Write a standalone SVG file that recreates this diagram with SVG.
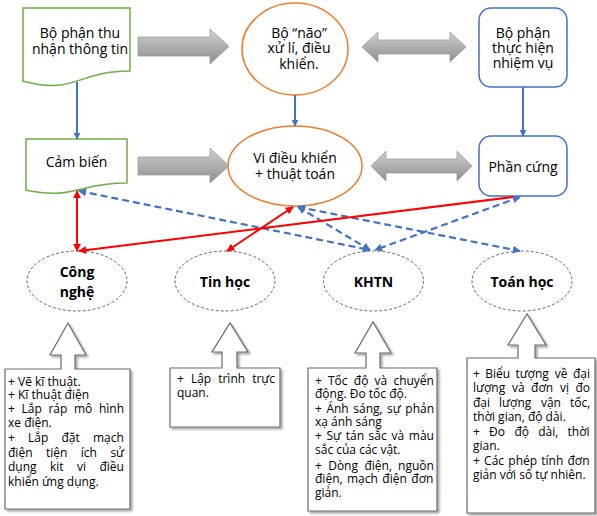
<svg xmlns="http://www.w3.org/2000/svg" width="597" height="516" viewBox="0 0 597 516">
<style>
text{font-family:"Open Sans","Noto Sans",sans-serif;fill:#000}
.lbl{font-size:14px;text-anchor:middle}
.bold{font-size:14px;font-weight:bold;text-anchor:middle}
.small{font-size:12px}
.garrow{fill:url(#gg);stroke:#9a9a9a;stroke-width:0.75}
.dash{fill:#fff;stroke:#404040;stroke-width:0.8;stroke-dasharray:3 2}
.call{fill:#fff;stroke:#6b6b6b;stroke-width:1.2;filter:url(#sh)}
.red{stroke:#FF0000;stroke-width:2;fill:none}
.bdash{stroke:#4472C4;stroke-width:2.2;stroke-dasharray:7 4;fill:none}
.bsolid{stroke:#4472C4;stroke-width:2;fill:none}
</style>
<defs>
<linearGradient id="gg" x1="0" y1="0" x2="0" y2="1">
<stop offset="0" stop-color="#cfcfcf"/>
<stop offset="1" stop-color="#8f8f8f"/>
</linearGradient>
<filter id="sh" x="-10%" y="-10%" width="130%" height="130%">
<feDropShadow dx="2" dy="2" stdDeviation="1" flood-color="#000" flood-opacity="0.35"/>
</filter>
<marker id="mr" viewBox="0 0 10 10" refX="9" refY="5" markerWidth="8" markerHeight="8" markerUnits="userSpaceOnUse" orient="auto-start-reverse"><path d="M0,0 L10,5 L0,10 Z" fill="#FF0000"/></marker>
<marker id="mb" viewBox="0 0 10 10" refX="9" refY="5" markerWidth="8" markerHeight="8" markerUnits="userSpaceOnUse" orient="auto-start-reverse"><path d="M0,0 L10,5 L0,10 Z" fill="#4472C4"/></marker>
<marker id="mbs" viewBox="0 0 10 10" refX="9" refY="5" markerWidth="7" markerHeight="7" markerUnits="userSpaceOnUse" orient="auto"><path d="M0,0 L10,5 L0,10 Z" fill="#4472C4"/></marker>
</defs>

<g id="n-thu-nhan">
<path d="M23,8 H130 V71 C76.5,71 76.5,95 23,81.3 Z" fill="#fff" stroke="#70AD47" stroke-width="1.5"/>
<text class="lbl" x="80" y="38">Bộ phận thu</text>
<text class="lbl" x="80" y="54">nhận thông tin</text>
</g>

<g id="n-bo-nao">
<ellipse cx="295" cy="49" rx="53" ry="46" fill="#fff" stroke="#ED7D31" stroke-width="1.5"/>
<text class="lbl" x="299" y="38">Bộ “não”</text>
<text class="lbl" x="299" y="53">xử lí, điều</text>
<text class="lbl" x="299" y="69">khiển.</text>
</g>

<g id="n-thuc-hien">
<rect x="479" y="8" width="88" height="79" rx="12" fill="#fff" stroke="#4472C4" stroke-width="1.5"/>
<text class="lbl" x="523" y="38">Bộ phận</text>
<text class="lbl" x="523" y="53">thực hiện</text>
<text class="lbl" x="523" y="68">nhiệm vụ</text>
</g>

<g id="n-cam-bien">
<path d="M26,139 H127 V183 C76.5,183 76.5,199.8 26,190.3 Z" fill="#fff" stroke="#70AD47" stroke-width="1.5"/>
<text class="lbl" x="76.5" y="167">Cảm biến</text>
</g>

<g id="n-vi-dieu-khien">
<ellipse cx="295" cy="166" rx="67" ry="40" fill="#fff" stroke="#ED7D31" stroke-width="1.5"/>
<text class="lbl" x="295" y="163">Vi điều khiển</text>
<text class="lbl" x="295" y="179">+ thuật toán</text>
</g>

<g id="n-phan-cung">
<rect x="479" y="136" width="88" height="60" rx="12" fill="#fff" stroke="#4472C4" stroke-width="1.5"/>
<text class="lbl" x="523" y="172">Phần cứng</text>
</g>

<g id="arrows-block">
<path class="garrow" d="M138,37 H210 V29 L229,46.5 L210,64 V56 H138 Z"/>
<path class="garrow" d="M138,157 H210 V148 L229,166 L210,183 V175 H138 Z"/>
<path class="garrow" d="M362,47 L378,32 V40 H450 V32 L466,47 L450,62 V54 H378 V62 Z"/>
<path class="garrow" d="M371,166 L386,151 V159 H457 V151 L472,166 L457,181 V173 H386 V181 Z"/>
</g>

<g id="n-cong-nghe">
<ellipse class="dash" cx="77" cy="281" rx="50" ry="30"/>
<text class="bold" x="77" y="277">Công</text>
<text class="bold" x="77" y="297">nghệ</text>
</g>
<g id="n-tin-hoc">
<ellipse class="dash" cx="225" cy="281" rx="50" ry="30"/>
<text class="bold" x="225" y="287">Tin học</text>
</g>
<g id="n-khtn">
<ellipse class="dash" cx="373.5" cy="281" rx="50" ry="30"/>
<text class="bold" x="373.5" y="287">KHTN</text>
</g>
<g id="n-toan-hoc">
<ellipse class="dash" cx="522" cy="281" rx="50" ry="30"/>
<text class="bold" x="522" y="287">Toán học</text>
</g>

<g id="connectors">
<line class="bsolid" x1="77" y1="82" x2="77" y2="139" marker-end="url(#mbs)"/>
<line class="bsolid" x1="295" y1="95" x2="295" y2="126" marker-end="url(#mbs)"/>
<line class="bsolid" x1="523" y1="87" x2="523" y2="136" marker-end="url(#mbs)"/>
<line class="bdash" x1="79" y1="191" x2="370" y2="250" marker-start="url(#mb)" marker-end="url(#mb)"/>
<line class="bdash" x1="298" y1="207" x2="370" y2="250" marker-start="url(#mb)" marker-end="url(#mb)"/>
<line class="bdash" x1="298" y1="207" x2="520" y2="251" marker-start="url(#mb)" marker-end="url(#mb)"/>
<line class="bdash" x1="520" y1="197" x2="375" y2="250" marker-start="url(#mb)" marker-end="url(#mb)"/>
<line class="red" x1="77" y1="191" x2="77" y2="251" marker-start="url(#mr)" marker-end="url(#mr)"/>
<line class="red" x1="513" y1="197" x2="79" y2="251" marker-end="url(#mr)"/>
<line class="red" x1="293" y1="207" x2="227" y2="251" marker-start="url(#mr)" marker-end="url(#mr)"/>
</g>

<g id="c-cong-nghe">
<path class="call" d="M5,369 H61 V355 H50 L68,323 L86,355 H75 V369 H130 V509 H5 Z"/>
<text class="small" x="8" y="386">+ Vẽ kĩ thuật.</text>
<text class="small" x="8" y="399">+ Kĩ thuật điện</text>
<text class="small" y="413"><tspan x="8">+</tspan><tspan x="21.5">Lắp</tspan><tspan x="48.4">ráp</tspan><tspan x="73.9">mô</tspan><tspan x="98.9">hình</tspan></text>
<text class="small" x="8" y="427">xe điện.</text>
<text class="small" y="442"><tspan x="8">+</tspan><tspan x="28.1">Lắp</tspan><tspan x="61.5">đặt</tspan><tspan x="93">mạch</tspan></text>
<text class="small" y="457"><tspan x="8">điện</tspan><tspan x="46">tiện</tspan><tspan x="80.8">ích</tspan><tspan x="110.4">sử</tspan></text>
<text class="small" y="471"><tspan x="8">dụng</tspan><tspan x="50">kit</tspan><tspan x="77">vi</tspan><tspan x="99.4">điều</tspan></text>
<text class="small" x="8" y="486">khiển ứng dụng.</text>
</g>

<g id="c-tin-hoc">
<path class="call" d="M170,368 H222 V352 H212 L230,323 L248,352 H237 V368 H280 V427 H170 Z"/>
<text class="small" y="383"><tspan x="177">+</tspan><tspan x="190.9">Lập</tspan><tspan x="218.2">trình</tspan><tspan x="252.2">trực</tspan></text>
<text class="small" x="177" y="397">quan.</text>
</g>

<g id="c-khtn">
<path class="call" d="M308,368 H366 V353 H355 L373,322 L391,353 H380 V368 H437 V511 H308 Z"/>
<text class="small" y="385"><tspan x="315">+</tspan><tspan x="328">Tốc</tspan><tspan x="353.8">độ</tspan><tspan x="374.6">và</tspan><tspan x="393.4">chuyển</tspan></text>
<text class="small" x="315" y="398">động. Đo tốc độ.</text>
<text class="small" y="413"><tspan x="315">+</tspan><tspan x="326.4">Ánh</tspan><tspan x="353.3">sáng,</tspan><tspan x="387.1">sự</tspan><tspan x="405.3">phản</tspan></text>
<text class="small" x="315" y="426">xạ ánh sáng</text>
<text class="small" y="440"><tspan x="315">+</tspan><tspan x="326.5">Sự</tspan><tspan x="345.7">tán</tspan><tspan x="368.6">sắc</tspan><tspan x="391.4">và</tspan><tspan x="408.8">màu</tspan></text>
<text class="small" x="315" y="454">sắc của các  vật.</text>
<text class="small" y="470"><tspan x="315">+</tspan><tspan x="328.2">Dòng</tspan><tspan x="364.4">điện,</tspan><tspan x="398.1">nguồn</tspan></text>
<text class="small" y="483"><tspan x="315">điện,</tspan><tspan x="346.9">mạch</tspan><tspan x="382.3">điện</tspan><tspan x="411.3">đơn</tspan></text>
<text class="small" x="315" y="497">giản.</text>
</g>

<g id="c-toan-hoc">
<path class="call" d="M467,358 H518 V345 H508 L527,314 L546,345 H535 V358 H595 V513 H467 Z"/>
<text class="small" y="378"><tspan x="473">+</tspan><tspan x="485.3">Biểu</tspan><tspan x="515.4">tượng</tspan><tspan x="554.8">về</tspan><tspan x="572.9">đại</tspan></text>
<text class="small" y="392"><tspan x="473">lượng</tspan><tspan x="512.1">và</tspan><tspan x="531.1">đơn</tspan><tspan x="560.1">vị</tspan><tspan x="575.4">đo</tspan></text>
<text class="small" y="407"><tspan x="473">đại</tspan><tspan x="499.1">lượng</tspan><tspan x="540.9">vận</tspan><tspan x="569.9">tốc,</tspan></text>
<text class="small" x="473" y="421">thời gian, độ dài.</text>
<text class="small" y="436"><tspan x="473">+</tspan><tspan x="489.1">Đo</tspan><tspan x="514.4">độ</tspan><tspan x="538.2">dài,</tspan><tspan x="567.5">thời</tspan></text>
<text class="small" x="473" y="450">gian.</text>
<text class="small" y="465"><tspan x="473">+</tspan><tspan x="484.1">Các</tspan><tspan x="508.3">phép</tspan><tspan x="541.3">tính</tspan><tspan x="567.5">đơn</tspan></text>
<text class="small" x="473" y="479">giản với số tự nhiên.</text>
</g>
</svg>
